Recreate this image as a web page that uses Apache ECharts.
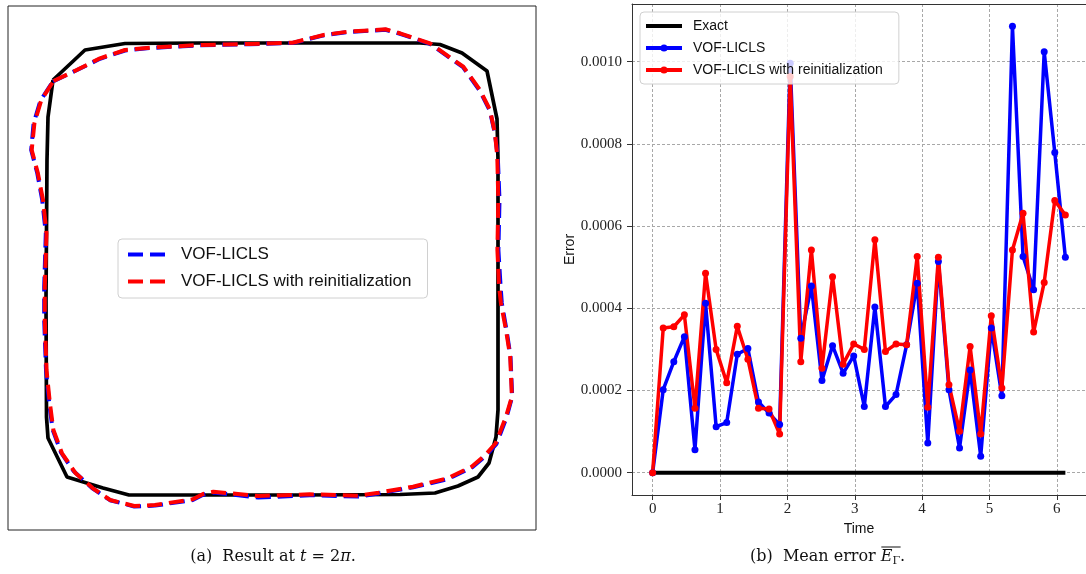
<!DOCTYPE html>
<html><head><meta charset="utf-8">
<script src="https://cdn.jsdelivr.net/npm/echarts@6/dist/echarts.min.js"></script>
<style>html,body{margin:0;padding:0;background:#fff}#c{width:1086px;height:574px}</style>
</head><body><div id="c"></div>
<script>
// ---------- Panel (b): mean error vs time ----------
const times = [0, 0.1571, 0.3142, 0.4712, 0.6283, 0.7854, 0.9425, 1.0996, 1.2566, 1.4137,
  1.5708, 1.7279, 1.8850, 2.0420, 2.1991, 2.3562, 2.5133, 2.6704, 2.8274, 2.9845,
  3.1416, 3.2987, 3.4558, 3.6128, 3.7699, 3.9270, 4.0841, 4.2412, 4.3982, 4.5553,
  4.7124, 4.8695, 5.0265, 5.1836, 5.3407, 5.4978, 5.6549, 5.8119, 5.9690, 6.1261];
const exactErr = [0,0,0,0,0,0,0,0,0,0, 0,0,0,0,0,0,0,0,0,0, 0,0,0,0,0,0,0,0,0,0, 0,0,0,0,0,0,0,0,0,0];
const liclsErr = [0, 0.000202, 0.000270, 0.000331, 0.000056, 0.000412, 0.000112, 0.000122, 0.000288, 0.000302,
  0.000172, 0.000145, 0.000117, 0.000996, 0.000327, 0.000454, 0.000224, 0.000309, 0.000242, 0.000284,
  0.000161, 0.000403, 0.000161, 0.000190, 0.000311, 0.000461, 0.000072, 0.000514, 0.000202, 0.000060,
  0.000250, 0.000040, 0.000352, 0.000187, 0.001086, 0.000526, 0.000445, 0.001024, 0.000779, 0.000524];
const reinitErr = [0, 0.000352, 0.000355, 0.000384, 0.000157, 0.000485, 0.000300, 0.000219, 0.000356, 0.000276,
  0.000157, 0.000155, 0.000094, 0.000964, 0.000270, 0.000542, 0.000254, 0.000477, 0.000264, 0.000313,
  0.000300, 0.000567, 0.000295, 0.000313, 0.000311, 0.000526, 0.000159, 0.000524, 0.000214, 0.000101,
  0.000307, 0.000094, 0.000382, 0.000206, 0.000542, 0.000631, 0.000342, 0.000463, 0.000662, 0.000627];
const xTicks = [0, 1, 2, 3, 4, 5, 6];
const yTicks = [0, 0.0002, 0.0004, 0.0006, 0.0008, 0.0010];

// ---------- Panel (a): interface shapes at t = 2π (plot units, y downward) ----------
const exactShape = [[53,80],[85,50],[125,43.5],[200,43],[300,43],[420,43],[440,44.5],[462,53],[487,71],[497,119],
  [498,160],[498,300],[498,410],[496,437],[489,463],[478,477],[458,486],[435,493],[400,494.5],[300,495],
  [200,495],[129,495],[103,488],[67,477],[48,438],[46.5,417],[46,300],[47,160],[48,117],[53,80]];
const liclsShape = [[53,81.5],[76,70.5],[100,58.8],[125,50.5],[150,48],[200,45.3],[250,44.2],[292.6,43],[323.6,35.4],[347.7,32],
  [385.5,29.8],[400,33.8],[430,43.8],[463,67.2],[479.6,90.4],[489.8,110.5],[495,134],[497.8,157],[499.5,200],[498.4,250],
  [500.6,286.7],[501.8,303],[506.5,330],[510.5,356.7],[512.2,396.7],[506.5,417.5],[496.5,443.8],[486,455.6],[472,467.5],[448,479],
  [413.2,487.4],[378.7,493.4],[358,496.6],[309.8,495.2],[258.2,497.6],[213.4,492.5],[203.1,494.8],[192.8,500],[154.9,505.6],[134.3,506.5],
  [110,500.2],[92,488],[73.5,471],[61,452.5],[52.6,429.5],[49.2,403],[46,370],[44.2,320],[44.2,286.7],[45.8,233.3],
  [42.2,200],[37.3,173.3],[31.2,150],[33.6,123.3],[40.5,100.5],[53,81.5]];
const reinitShape = [[53.5,81],[76.7,70],[100,58.3],[125,50],[150,47.7],[200,45],[250,44],[292.6,42.7],[323.6,35],[347.7,31.7],
  [385.5,29.3],[400,33.3],[430,43.3],[463.3,66.7],[480,90],[490,110],[495,133.3],[497.3,156.7],[498.3,200],[497.4,250],
  [499.1,286.7],[500.9,303],[506,330],[510.2,356.7],[511.9,396.7],[506,416.7],[495.7,443.3],[485.4,455],[471.6,466.7],[447.5,478.3],
  [413,486.7],[378.7,492.7],[358,495.7],[309.8,494.3],[258.2,496],[213.4,491.7],[203.1,494],[192.8,499.3],[154.9,505],[134.3,506],
  [110.2,500],[92.9,488.3],[75.7,473.3],[62,453.3],[53.4,430],[49.9,403.3],[46.5,370],[44.8,320],[44.8,286.7],[46.5,233.3],
  [43,200],[37.9,173.3],[31.7,150],[34.4,123.3],[41.3,100],[53.5,81]];

const NAME_EXACT = 'Exact';
const NAME_A = 'VOF-LICLS';
const NAME_B = 'VOF-LICLS with reinitialization';
const SHAPE = 'shape:';
const CAPTION_A = '(a)  Result at {it|t} = 2{it|π}.';
const CAPTION_B_PREFIX = '(b)  Mean error ';

const pair = (xs, ys) => xs.map((x, i) => [x, ys[i]]);
const sans = 'Liberation Sans';
const serif = 'Liberation Serif';
const capFont = 'DejaVu Serif';
const capSize = 16;

// measure caption (b) so the overline sits over E_Γ
const mctx = document.createElement('canvas').getContext('2d');
mctx.font = capSize + 'px "' + capFont + '"';
const prefixW = mctx.measureText(CAPTION_B_PREFIX).width;
mctx.font = 'italic ' + capSize + 'px "' + capFont + '"';
const eW = mctx.measureText('E').width;
mctx.font = '11px "' + capFont + '"';
const gW = mctx.measureText('Γ').width;
const capBx = 750;

const chart = echarts.init(document.getElementById('c'), null, {renderer: 'canvas'});
const hideSym = {opacity: 0};
const option = {
  animation: false,
  backgroundColor: '#fff',
  grid: [
    {left: 8, top: 6, width: 528, height: 524, show: true, borderColor: '#222', borderWidth: 1, backgroundColor: 'transparent'},
    {left: 632, top: 4, right: -10, height: 491}
  ],
  xAxis: [
    {gridIndex: 0, type: 'value', min: 8, max: 536, show: false},
    {gridIndex: 1, type: 'value', min: -0.3063, max: 6.4324, minInterval: 1, maxInterval: 1,
      name: 'Time', nameLocation: 'middle', nameGap: 22,
      nameTextStyle: {fontFamily: sans, fontSize: 14, color: '#111'},
      axisLine: {show: true, onZero: false, lineStyle: {color: '#333', width: 1}},
      axisTick: {show: true, length: 5, customValues: xTicks, lineStyle: {color: '#333'}},
      axisLabel: {customValues: xTicks, margin: 7, fontFamily: serif, fontSize: 15, color: '#222'},
      splitLine: {show: true, lineStyle: {color: '#a8a8a8', width: 1, type: [3, 2]}}},
    {gridIndex: 1, type: 'value', position: 'top', min: -0.3063, max: 6.4324,
      axisLine: {show: true, onZero: false, lineStyle: {color: '#333', width: 1}},
      axisTick: {show: false}, axisLabel: {show: false}, splitLine: {show: false}}
  ],
  yAxis: [
    {gridIndex: 0, type: 'value', min: 6, max: 530, inverse: true, show: false},
    {gridIndex: 1, type: 'value', min: -0.0000543, max: 0.0011403, minInterval: 0.0002, maxInterval: 0.0002,
      name: 'Error', nameLocation: 'middle', nameGap: 54, nameRotate: 90,
      nameTextStyle: {fontFamily: sans, fontSize: 14, color: '#111'},
      axisLine: {show: true, onZero: false, lineStyle: {color: '#333', width: 1}},
      axisTick: {show: true, length: 5, customValues: yTicks, lineStyle: {color: '#333'}},
      axisLabel: {customValues: yTicks, margin: 10,
        formatter: v => v.toFixed(4), fontFamily: serif, fontSize: 15, color: '#222'},
      splitLine: {show: true, lineStyle: {color: '#a8a8a8', width: 1, type: [3, 2]}}}
  ],
  legend: [
    {data: [{name: SHAPE + NAME_A, itemStyle: hideSym}, {name: SHAPE + NAME_B, itemStyle: hideSym}],
      formatter: n => n.replace(SHAPE, ''),
      orient: 'vertical', left: 118, top: 239, itemWidth: 38, itemHeight: 14, itemGap: 10,
      padding: [7, 16, 8, 8], backgroundColor: 'rgba(255,255,255,0.85)', borderColor: '#d0d0d0',
      borderWidth: 1, borderRadius: 4, selectedMode: false,
      lineStyle: {width: 4},
      textStyle: {fontFamily: sans, fontSize: 17, color: '#111', padding: [0, 0, 0, 10]}},
    {data: [{name: NAME_EXACT, itemStyle: hideSym}, NAME_A, NAME_B],
      orient: 'vertical', left: 640, top: 12, itemWidth: 36, itemHeight: 9, itemGap: 8,
      padding: [7, 16, 7, 4], backgroundColor: 'rgba(255,255,255,0.8)', borderColor: '#d0d0d0',
      borderWidth: 1, borderRadius: 4, selectedMode: false,
      lineStyle: {width: 4},
      textStyle: {fontFamily: sans, fontSize: 14, color: '#111', padding: [0, 0, 0, 6]}}
  ],
  series: [
    {name: SHAPE + 'Exact', type: 'line', xAxisIndex: 0, yAxisIndex: 0, data: exactShape,
      symbol: 'none', lineStyle: {color: '#000', width: 3.7}, itemStyle: {color: '#000'}, silent: true},
    {name: SHAPE + NAME_A, type: 'line', xAxisIndex: 0, yAxisIndex: 0, data: liclsShape,
      symbol: 'none', lineStyle: {color: '#0000ff', width: 4, type: [15, 7]}, itemStyle: {color: '#0000ff'}, silent: true},
    {name: SHAPE + NAME_B, type: 'line', xAxisIndex: 0, yAxisIndex: 0, data: reinitShape,
      symbol: 'none', lineStyle: {color: '#ff0000', width: 4, type: [15, 7]}, itemStyle: {color: '#ff0000'}, silent: true},
    {name: NAME_EXACT, type: 'line', xAxisIndex: 1, yAxisIndex: 1, data: pair(times, exactErr),
      symbol: 'none', lineStyle: {color: '#000', width: 4}, itemStyle: {color: '#000'}, silent: true},
    {name: NAME_A, type: 'line', xAxisIndex: 1, yAxisIndex: 1, data: pair(times, liclsErr),
      symbol: 'circle', symbolSize: 7, lineStyle: {color: '#0000ff', width: 3.5}, itemStyle: {color: '#0000ff'}, silent: true},
    {name: NAME_B, type: 'line', xAxisIndex: 1, yAxisIndex: 1, data: pair(times, reinitErr),
      symbol: 'circle', symbolSize: 7, lineStyle: {color: '#ff0000', width: 3.5}, itemStyle: {color: '#ff0000'}, silent: true}
  ],
  graphic: [
    {type: 'text', x: 273, y: 557, style: {
      text: CAPTION_A, textAlign: 'center', textVerticalAlign: 'middle',
      font: capSize + 'px "' + capFont + '"', fill: '#111',
      rich: {it: {fontStyle: 'italic', fontFamily: capFont, fontSize: capSize}}}},
    {type: 'text', x: capBx, y: 557, style: {
      text: CAPTION_B_PREFIX + '{it|E}{sub|Γ}.', textAlign: 'left', textVerticalAlign: 'middle',
      font: capSize + 'px "' + capFont + '"', fill: '#111',
      rich: {it: {fontStyle: 'italic', fontFamily: capFont, fontSize: capSize},
             sub: {fontFamily: capFont, fontSize: 11, padding: [9, 0, 0, 0]}}}},
    {type: 'line', shape: {x1: capBx + prefixW + 0.5, y1: 547, x2: capBx + prefixW + eW + gW + 0.5, y2: 547},
      style: {stroke: '#111', lineWidth: 1}}
  ]
};
chart.setOption(option);
</script></body></html>
